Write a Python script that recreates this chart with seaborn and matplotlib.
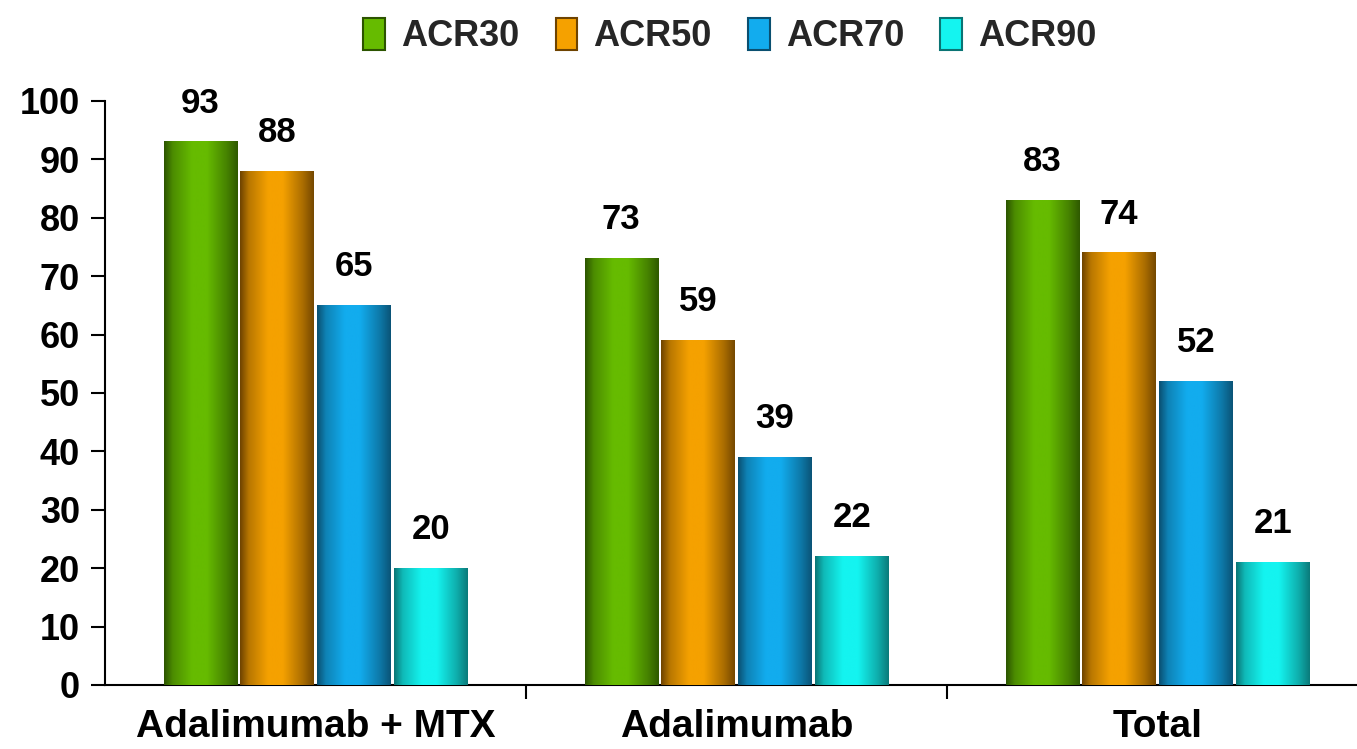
import numpy as np
import pandas as pd
import matplotlib
matplotlib.use("Agg")
import matplotlib.pyplot as plt
from matplotlib.colors import to_rgb
from matplotlib.patches import Rectangle
import seaborn as sns

# Response rates (%) by treatment group and ACR threshold
groups = ["Adalimumab + MTX", "Adalimumab", "Total"]
measures = ["ACR30", "ACR50", "ACR70", "ACR90"]
acr30 = [93, 73, 83]
acr50 = [88, 59, 74]
acr70 = [65, 39, 52]
acr90 = [20, 22, 21]

# bright centre colour and dark edge colour for each series
bright = {"ACR30": "#66bb00", "ACR50": "#f5a100", "ACR70": "#12acee", "ACR90": "#14f4f0"}
dark = {"ACR30": "#2c5400", "ACR50": "#6e4300", "ACR70": "#0a4f70", "ACR90": "#0a7474"}

df = pd.DataFrame({
    "group": np.repeat(groups, len(measures)),
    "measure": measures * len(groups),
    "value": [v for trio in zip(acr30, acr50, acr70, acr90) for v in trio],
})

sns.set_theme(style="white")
plt.rcParams["font.family"] = ["Liberation Sans", "DejaVu Sans"]
plt.rcParams["font.weight"] = "bold"

fig = plt.figure(figsize=(13.57, 7.49), dpi=100)
ax = fig.add_axes([105 / 1357, 64 / 749, 1263 / 1357, 584 / 749])

sns.barplot(data=df, x="group", y="value", hue="measure", order=groups,
            hue_order=measures, palette=bright, width=0.73, ax=ax,
            legend=False, saturation=1)


def cylinder(c_dark, c_bright, n=256):
    """Horizontal shading strip: dark edges, bright centre-left."""
    t = np.linspace(0, 1, n)
    f = np.interp(t, [0, 0.12, 0.38, 0.58, 0.85, 1.0],
                  [0.0, 0.55, 1.0, 1.0, 0.45, 0.05])
    d = np.array(to_rgb(c_dark))
    b = np.array(to_rgb(c_bright))
    rgb = d[None, :] + (b - d)[None, :] * f[:, None]
    return rgb[None, :, :]


for container, m in zip(ax.containers, measures):
    img = cylinder(dark[m], bright[m])
    for bar in container:
        x, w, h = bar.get_x(), bar.get_width(), bar.get_height()
        gap = 0.004
        ax.imshow(img, extent=[x + gap, x + w - gap, 0, h], aspect="auto",
                  interpolation="bilinear", zorder=3)
        bar.set_visible(False)
    ax.bar_label(container, fmt="%d", padding=16, fontsize=25,
                 fontweight="bold", color="black", zorder=4)

ax.set_xlim(-0.5, 2.5)
ax.set_ylim(0, 100)
ax.set_yticks(range(0, 101, 10))
ax.set_xticks(range(len(groups)))
ax.set_xticklabels(groups, fontsize=28, fontweight="bold")
ax.set_xticks([0.5, 1.5], minor=True)
ax.tick_params(axis="x", which="major", length=0, pad=17, colors="black")
ax.tick_params(axis="x", which="minor", length=10, width=1.5, direction="out",
               color="black", bottom=True)
ax.tick_params(axis="y", length=10, width=1.5, direction="out", left=True,
               labelsize=26, pad=8, colors="black")
for lbl in ax.get_yticklabels():
    lbl.set_fontweight("bold")
ax.set_xlabel("")
ax.set_ylabel("")
for side in ["top", "right"]:
    ax.spines[side].set_visible(False)
for side in ["left", "bottom"]:
    ax.spines[side].set_color("black")
    ax.spines[side].set_linewidth(1.5)
ax.grid(False)

handles = [Rectangle((0, 0), 1, 1, facecolor=bright[m], edgecolor=dark[m],
                     linewidth=1.5) for m in measures]
fig.legend(handles, measures, loc="upper center", bbox_to_anchor=(0.538, 1.02),
           ncol=4, frameon=False, handlelength=0.6,
           handleheight=1.0, handletextpad=0.45, columnspacing=1.0,
           prop={"weight": "bold", "size": 26})

fig.savefig("out.png", dpi=100)
